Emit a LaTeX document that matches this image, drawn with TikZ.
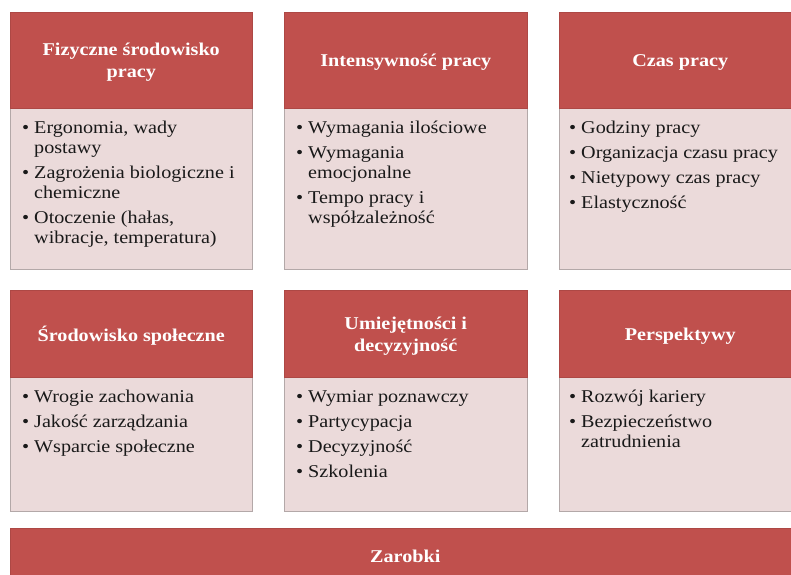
\documentclass[tikz,border=0pt]{standalone}
\usepackage{fontspec}
\setmainfont{Liberation Serif}[FakeStretch=1.12]
\definecolor{hdr}{HTML}{C0504D}
\definecolor{bdy}{HTML}{EBDADA}
\definecolor{edge}{HTML}{B3A8A8}
\newcommand\bul{\makebox[12pt][l]{•}}
\newcommand\ind{\hspace*{12pt}}
\tikzset{
 hdrbox/.style={rectangle, draw=hdr!90!black, fill=hdr, line width=0.5pt, anchor=north west, inner sep=0pt},
 hdrtxt/.style={inner sep=0pt, text=white, font=\bfseries\fontsize{18}{22}\selectfont, align=center, yshift=-2pt},
 bodybox/.style={rectangle, draw=edge, fill=bdy, line width=0.7pt, anchor=north west, inner sep=0pt},
 listtxt/.style={anchor=north west, inner sep=0pt, align=left, text=black!90, font=\fontsize{18}{20}\selectfont},
}
\begin{document}
\begin{tikzpicture}[x=1pt,y=-1pt]
\useasboundingbox (0,0) rectangle (791,574);
\clip (0,0) rectangle (791,574);
\fill[white] (0,0) rectangle (791,574);
% row 1
\node[bodybox, minimum width=242pt, minimum height=161pt] (b1) at (10,108) {};
\node[hdrbox, minimum width=242pt, minimum height=96pt] (h1) at (10,12) {};
\node[hdrtxt] (t1) at (h1.center) {Fizyczne środowisko\\pracy};
\node[listtxt] (l1) at (22,121) {\bul Ergonomia, wady\\\ind postawy\\[5pt]\bul Zagrożenia biologiczne i\\\ind chemiczne\\[5pt]\bul Otoczenie (hałas,\\\ind wibracje, temperatura)};
\node[bodybox, minimum width=243pt, minimum height=161pt] (b2) at (284,108) {};
\node[hdrbox, minimum width=243pt, minimum height=96pt] (h2) at (284,12) {};
\node[hdrtxt] (t2) at (h2.center) {Intensywność pracy};
\node[listtxt] (l2) at (296,121) {\bul Wymagania ilościowe\\[5pt]\bul Wymagania\\\ind emocjonalne\\[5pt]\bul Tempo pracy i\\\ind współzależność};
\node[bodybox, minimum width=242pt, minimum height=161pt] (b3) at (559,108) {};
\node[hdrbox, minimum width=242pt, minimum height=96pt] (h3) at (559,12) {};
\node[hdrtxt] (t3) at (h3.center) {Czas pracy};
\node[listtxt] (l3) at (569,121) {\bul Godziny pracy\\[5pt]\bul Organizacja czasu pracy\\[5pt]\bul Nietypowy czas pracy\\[5pt]\bul Elastyczność};
% row 2
\node[bodybox, minimum width=242pt, minimum height=134pt] (b4) at (10,377) {};
\node[hdrbox, minimum width=242pt, minimum height=87pt] (h4) at (10,290) {};
\node[hdrtxt] (t4) at (h4.center) {Środowisko społeczne};
\node[listtxt] (l4) at (22,390) {\bul Wrogie zachowania\\[5pt]\bul Jakość zarządzania\\[5pt]\bul Wsparcie społeczne};
\node[bodybox, minimum width=243pt, minimum height=134pt] (b5) at (284,377) {};
\node[hdrbox, minimum width=243pt, minimum height=87pt] (h5) at (284,290) {};
\node[hdrtxt] (t5) at (h5.center) {Umiejętności i\\decyzyjność};
\node[listtxt] (l5) at (296,390) {\bul Wymiar poznawczy\\[5pt]\bul Partycypacja\\[5pt]\bul Decyzyjność\\[5pt]\bul Szkolenia};
\node[bodybox, minimum width=242pt, minimum height=134pt] (b6) at (559,377) {};
\node[hdrbox, minimum width=242pt, minimum height=87pt] (h6) at (559,290) {};
\node[hdrtxt] (t6) at (h6.center) {Perspektywy};
\node[listtxt] (l6) at (569,390) {\bul Rozwój kariery\\[5pt]\bul Bezpieczeństwo\\\ind zatrudnienia};
% bottom bar
\node[hdrbox, minimum width=790pt, minimum height=52pt] (zar) at (10,528) {};
\node[hdrtxt] (t7) at (zar.center) {Zarobki};
\end{tikzpicture}
\end{document}
